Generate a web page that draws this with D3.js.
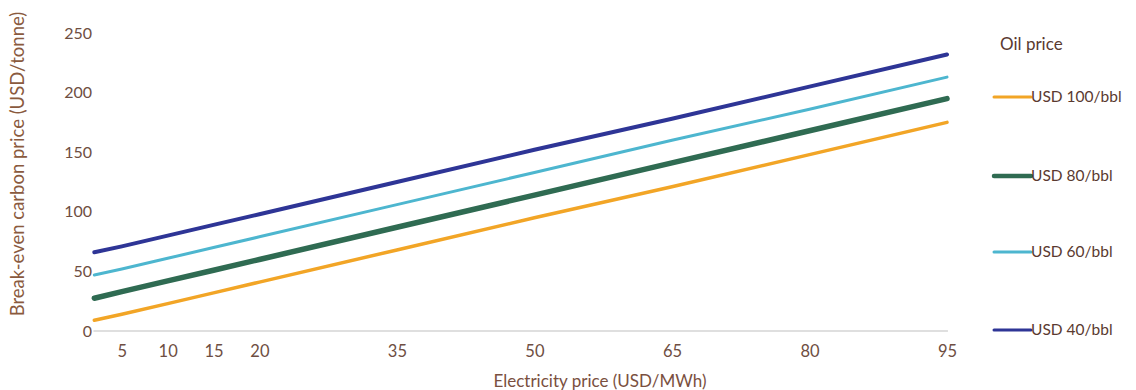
<!DOCTYPE html>
<html><head><meta charset="utf-8">
<script src="https://cdn.jsdelivr.net/npm/d3@7"></script>
<style>
body{margin:0;background:#fff;}
text{font-family:Lato,"Open Sans",sans-serif;}
</style></head>
<body><svg id="c" width="1136" height="390"></svg>
<script>
const elecPrice = [2, 5, 10, 15, 20, 35, 50, 65, 80, 95];
const oil100 = [9, 14, 23, 32, 41, 68, 95, 121, 148, 175];
const oil80  = [27.5, 33, 42, 51, 60, 87, 114, 141, 168, 195];
const oil60  = [47, 52, 61, 70, 79, 106, 133, 160, 186, 213];
const oil40  = [66, 71, 80, 89, 98, 125, 152, 178, 205, 232];
const seriesNames = ["USD 100/bbl", "USD 80/bbl", "USD 60/bbl", "USD 40/bbl"];
const xTicks = [5, 10, 15, 20, 35, 50, 65, 80, 95];
const yTicks = [0, 50, 100, 150, 200, 250];

const series = [
  {name: seriesNames[0], values: oil100, color: "#F2A526", w: 3.5},
  {name: seriesNames[1], values: oil80,  color: "#2F6B52", w: 5.5},
  {name: seriesNames[2], values: oil60,  color: "#4DB6CF", w: 3},
  {name: seriesNames[3], values: oil40,  color: "#2E3596", w: 4}
];

const svg = d3.select("#c");
const x = d3.scaleLinear().domain([0, 95]).range([76, 947]);
const y = d3.scaleLinear().domain([0, 250]).range([331, 33]);

// axis baseline
svg.append("line").attr("x1", x(1.9)).attr("x2", x(95.1))
  .attr("y1", y(0)).attr("y2", y(0)).attr("stroke", "#d4d4d4").attr("stroke-width", 1.5);

// y tick labels
const yAxis = d3.axisLeft(y).tickValues(yTicks).tickSize(0).tickPadding(0);
const gy = svg.append("g").attr("transform", "translate(92,0)").call(yAxis);
gy.select(".domain").remove();
gy.selectAll("text").attr("fill", "#6e4e42").style("font-size", "16px").style("font-family", "Lato, sans-serif");

// x tick labels
const xAxis = d3.axisBottom(x).tickValues(xTicks).tickSize(0).tickPadding(0);
const gx = svg.append("g").attr("transform", "translate(0,345)").call(xAxis);
gx.select(".domain").remove();
gx.selectAll("text").attr("fill", "#6e4e42").style("font-size", "16.5px").style("font-family", "Lato, sans-serif");

// axis titles
svg.append("text").attr("x", 600).attr("y", 387).attr("text-anchor", "middle")
  .attr("fill", "#7a5040").style("font-size", "17px").text("Electricity price (USD/MWh)");
svg.append("text").attr("transform", "translate(24,164) rotate(-90)").attr("text-anchor", "middle")
  .attr("fill", "#8a5a3e").style("font-size", "18.5px").text("Break-even carbon price (USD/tonne)");

// lines
const line = d3.line().x((d, i) => x(elecPrice[i])).y(d => y(d));
series.forEach(s => {
  svg.append("path").datum(s.values).attr("d", line)
    .attr("fill", "none").attr("stroke", s.color).attr("stroke-width", s.w)
    .attr("stroke-linecap", "round");
});

// legend
svg.append("text").attr("x", 1000).attr("y", 50).attr("fill", "#5a3a30")
  .style("font-size", "17px").text("Oil price");
const legY = [97, 176, 252, 330];
series.forEach((s, i) => {
  svg.append("line").attr("x1", 994).attr("x2", 1031).attr("y1", legY[i]).attr("y2", legY[i])
    .attr("stroke", s.color).attr("stroke-width", Math.max(3, s.w - 1)).attr("stroke-linecap", "round");
  svg.append("text").attr("x", 1031).attr("y", legY[i]).attr("dy", "0.35em")
    .attr("fill", "#5a3a30").style("font-size", "15.5px").text(s.name);
});
</script></body></html>
